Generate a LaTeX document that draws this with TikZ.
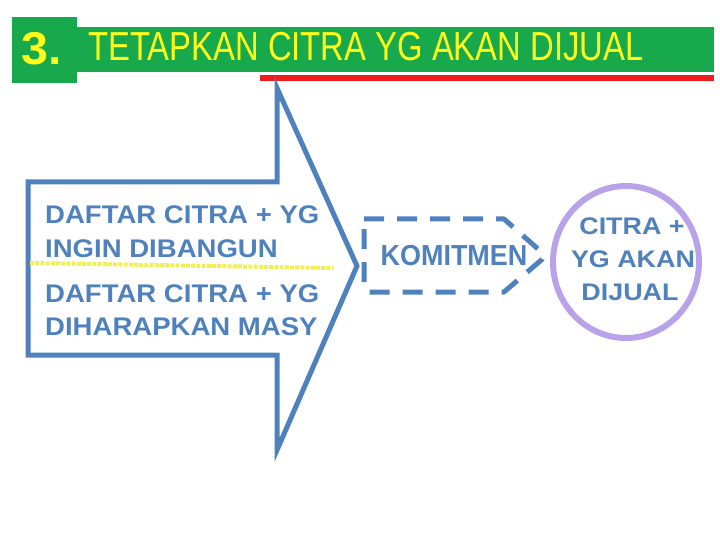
\documentclass[tikz,border=0pt]{standalone}
\usepackage{graphicx}
\usepackage{fontspec}
\setmainfont{Liberation Sans}
\usetikzlibrary{shapes.geometric}
\definecolor{hgreen}{HTML}{17A94B}
\definecolor{hred}{HTML}{EE1C1C}
\definecolor{hblue}{HTML}{4F81BD}
\definecolor{hlav}{HTML}{B8A3EA}
\definecolor{hyel}{HTML}{FFFF1A}
\definecolor{hdot}{HTML}{F0F050}
\newcommand{\arrtxt}[1]{\scalebox{1.08}[1]{#1}}
\newcommand{\circtxt}[1]{\scalebox{1.12}[1]{#1}}
\begin{document}
\begin{tikzpicture}[x=1pt,y=-1pt,
  arrline/.style={inner sep=0, anchor=base west, text=hblue, font=\bfseries\fontsize{25.5}{30}\selectfont},
  circline/.style={inner sep=0, anchor=base, text=hblue, font=\bfseries\fontsize{24}{28}\selectfont},
  outline/.style={draw=hblue, line width=5pt}]
\useasboundingbox (0,0) rectangle (720,540);
% header
\fill[hgreen] (77,27) rectangle (714,72);
\fill[hgreen] (12,17) rectangle (77,83);
\fill[hred] (260,75) rectangle (714,81);
\node[inner sep=0, anchor=base west, text=hyel, font=\bfseries\fontsize{46}{50}\selectfont] (num) at (21,65) {\scalebox{1.05}[1]{3.}};
\node[inner sep=0, anchor=base west, text=hyel, font=\fontsize{40.5}{46}\selectfont] (title) at (88,61) {\scalebox{0.81}[1]{TETAPKAN CITRA YG AKAN DIJUAL}};
% big arrow
\draw[outline, line join=miter] (28,182) -- (277,182) -- (277,88) -- (357,266) -- (277,450) -- (277,355) -- (28,355) -- cycle;
\draw[hdot, line width=4pt, dash pattern=on 4pt off 1.2pt] (30,263) -- (333,268);
\node[arrline] (a1) at (45,223) {\arrtxt{DAFTAR CITRA + YG}};
\node[arrline] (a2) at (45,257) {\arrtxt{INGIN DIBANGUN}};
\node[arrline] (a3) at (45,302) {\arrtxt{DAFTAR CITRA + YG}};
\node[arrline] (a4) at (45,335) {\arrtxt{DIHARAPKAN MASY}};
% komitmen
\draw[draw=hblue, line width=5pt, dash pattern=on 20pt off 13pt, line join=round] (364,219) -- (504,219) [rounded corners=5pt] -- (546,256) [sharp corners] -- (504,292) [rounded corners=5pt] -- (364,292) [sharp corners] -- cycle;
\node[inner sep=0, anchor=base, text=hblue, font=\bfseries\fontsize{29}{34}\selectfont] (kom) at (454,265) {\scalebox{0.93}[1]{KOMITMEN}};
% circle
\node[draw=hlav, line width=6pt, ellipse, minimum width=146pt, minimum height=152pt, inner sep=0] (c) at (626,262) {};
\node[circline] (c1) at (632,234) {\circtxt{CITRA +}};
\node[circline] (c2) at (633,267) {\circtxt{YG AKAN}};
\node[circline] (c3) at (630,300) {\circtxt{DIJUAL}};
\end{tikzpicture}
\end{document}
